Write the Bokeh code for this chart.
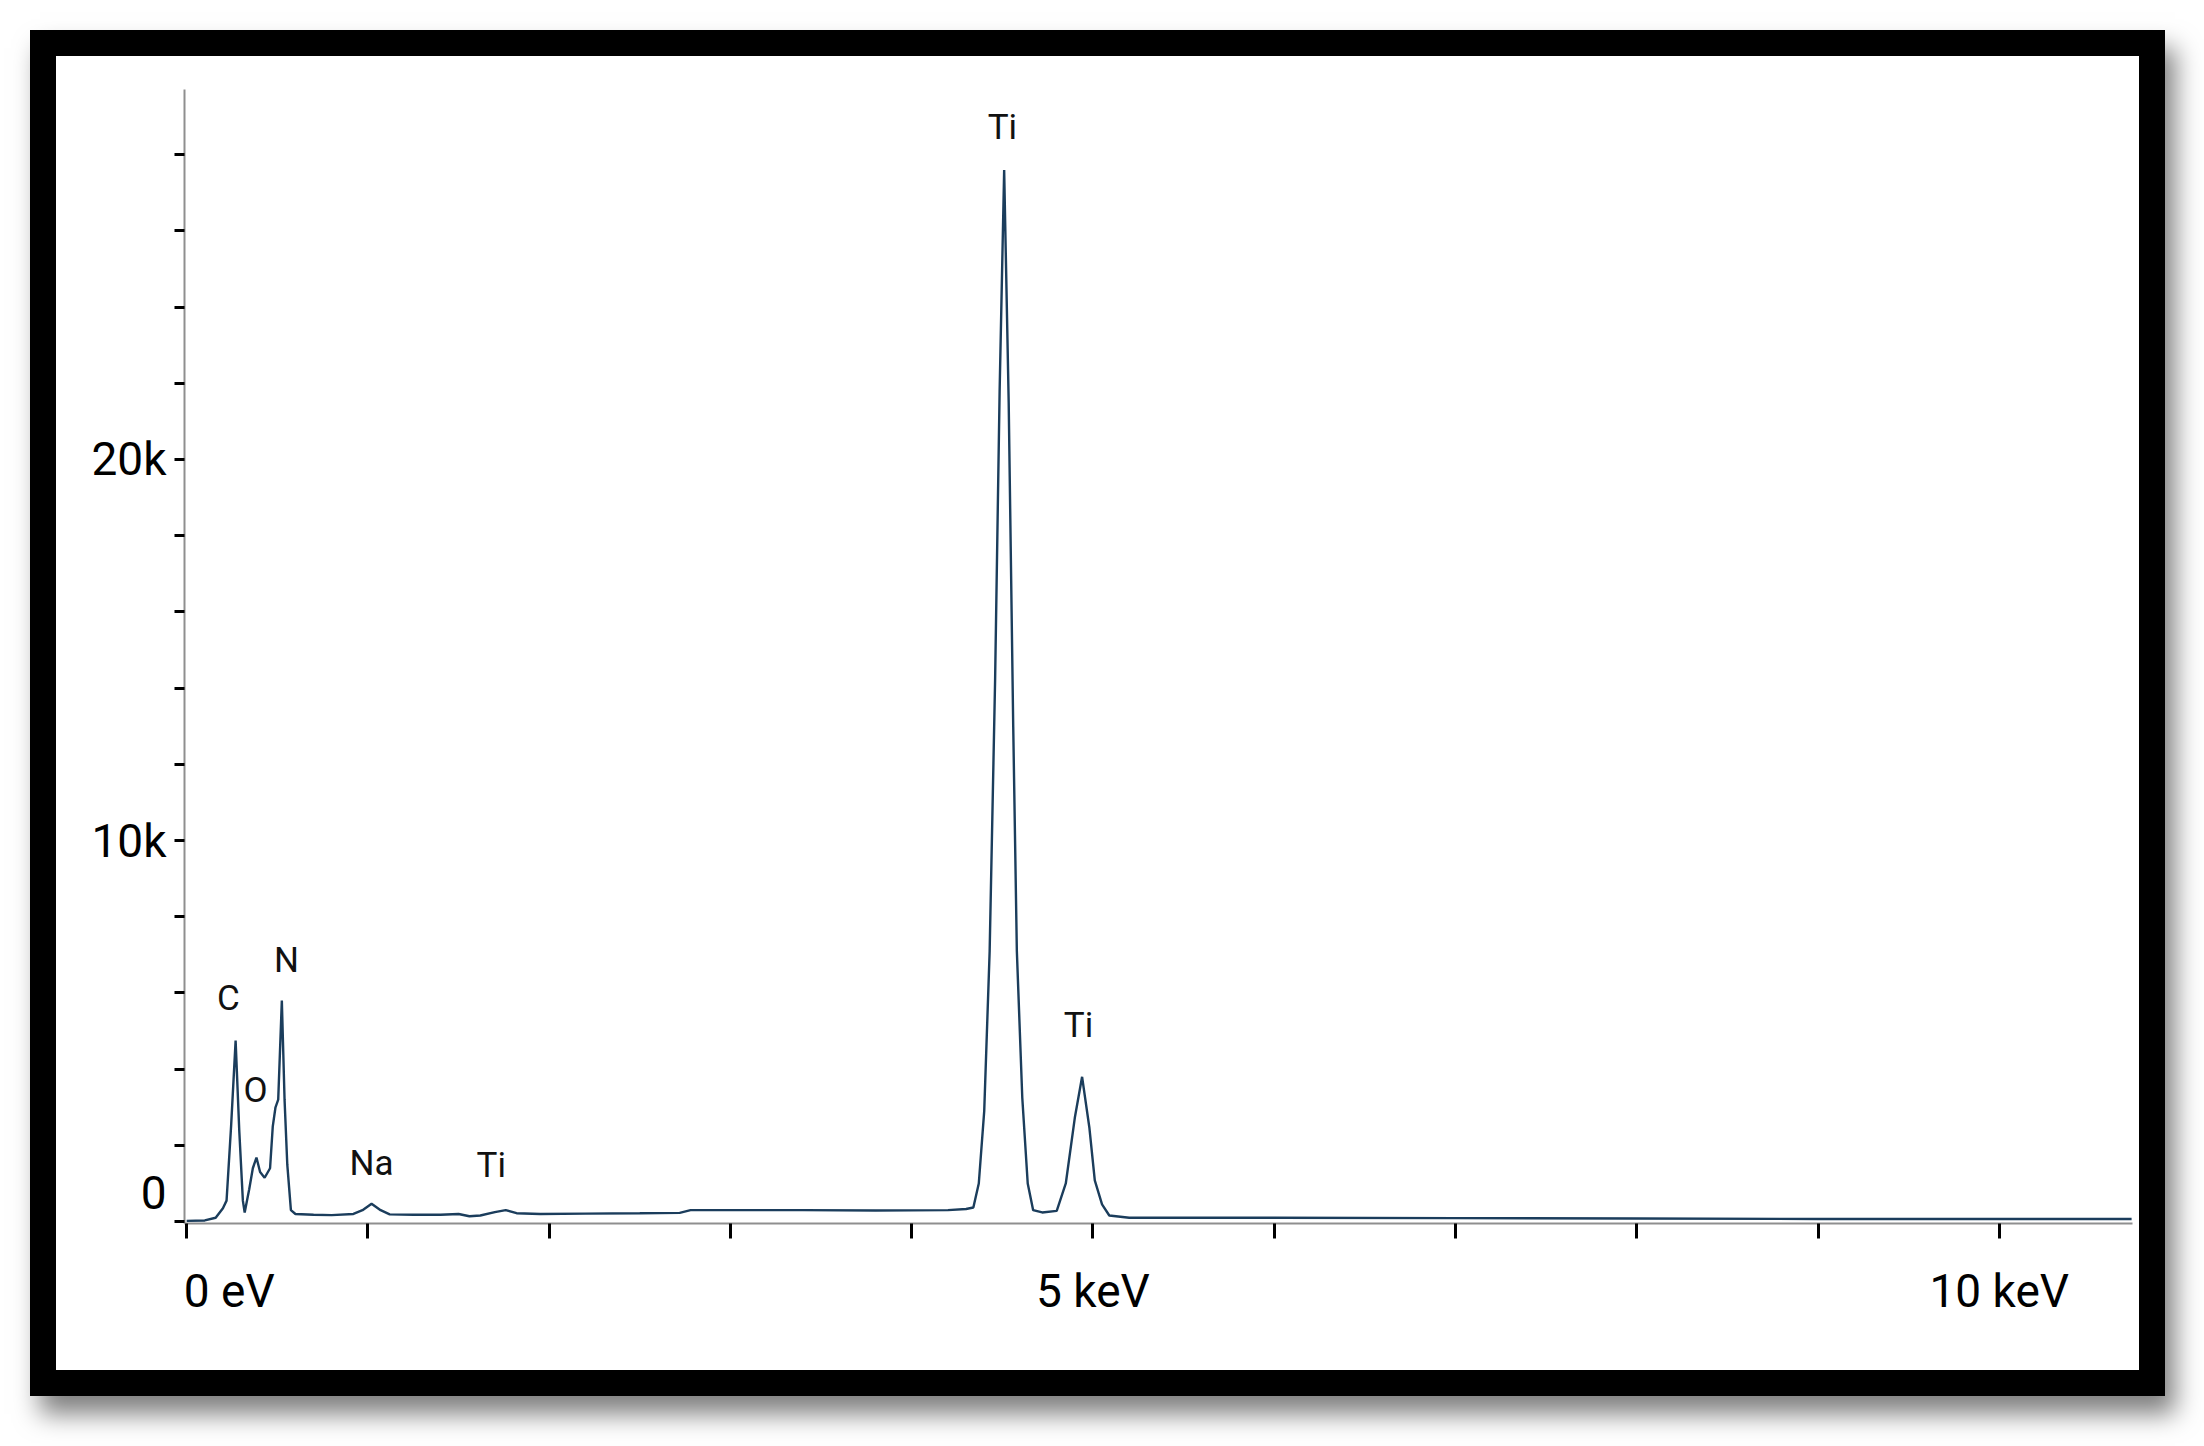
from bokeh.plotting import figure
from bokeh.models import Range1d, FixedTicker, ColumnDataSource
from bokeh.core.properties import value
from bokeh.embed import file_html
from bokeh.resources import INLINE

# ---- data (energy in keV, counts) ----
energy_kev = [0.00, 0.10, 0.16, 0.20, 0.22, 0.245, 0.27, 0.29, 0.31, 0.32, 0.345, 0.365,
              0.385, 0.405, 0.43, 0.46, 0.475, 0.49, 0.505, 0.525, 0.54, 0.555, 0.575, 0.60,
              0.70, 0.80, 0.92, 0.97, 1.02, 1.07, 1.12, 1.25, 1.40, 1.50, 1.56, 1.62, 1.70,
              1.76, 1.82, 1.95, 2.20, 2.50, 2.72, 2.78, 3.00, 3.40, 3.80, 4.20, 4.30, 4.34,
              4.37, 4.40, 4.43, 4.46, 4.485, 4.51, 4.535, 4.56, 4.58, 4.61, 4.64, 4.67, 4.72,
              4.80, 4.85, 4.90, 4.94, 4.98, 5.01, 5.05, 5.09, 5.20, 6.00, 7.00, 8.00, 9.00,
              10.00, 10.73]
counts = [20, 30, 100, 350, 550, 2500, 4750, 2400, 550, 240, 850, 1400,
          1680, 1300, 1150, 1400, 2500, 3000, 3200, 5800, 3200, 1500, 300, 200,
          180, 170, 200, 300, 470, 300, 190, 180, 180, 200, 140, 160, 250,
          300, 220, 200, 210, 220, 230, 300, 300, 300, 290, 300, 330, 370,
          1000, 2900, 7100, 14200, 21800, 27600, 21500, 13000, 7100, 3250, 1000, 300, 240,
          280, 1000, 2730, 3800, 2470, 1080, 450, 160, 100, 100, 90, 80, 70,
          70, 70]

peak_labels = ["C", "O", "N", "Na", "Ti", "Ti", "Ti"]
peak_label_energy = [0.23, 0.38, 0.55, 1.02, 1.68, 4.50, 4.92]
peak_label_counts = [5860, 3440, 6860, 1530, 1480, 28700, 5150]

# tick marks every 1 keV / 2k counts; labels sit where the original software drew them
x_tick_marks = [0, 1, 2, 3, 4, 5, 6, 7, 8, 9, 10]
x_label_pos = [0.235, 5, 10]
x_label_text = ["0 eV", "5 keV", "10 keV"]
y_tick_marks = [0, 2000, 4000, 6000, 8000, 10000, 12000, 14000, 16000, 18000,
                20000, 22000, 24000, 26000, 28000]
y_label_pos = [760, 10000, 20000]
y_label_text = ["0", "10k", "20k"]

FONT = "Roboto"
LINE_COLOR = "#1b3d5c"

p = figure(width=2083, height=1314,
           x_range=Range1d(-0.012, 10.735), y_range=Range1d(-50, 29710),
           output_backend="svg", toolbar_location=None,
           min_border_left=128, min_border_right=7, min_border_top=33, min_border_bottom=147)

p.background_fill_color = "white"
p.border_fill_color = "white"
p.outline_line_color = None
p.xgrid.visible = False
p.ygrid.visible = False

# black picture frame with drop shadow (drawn outside the canvas box)
p.styles = {"position": "relative", "left": "56px", "top": "56px",
            "outline": "26px solid #000",
            "box-shadow": "10px 18px 24px 26px rgba(0,0,0,0.5)"}

src = ColumnDataSource(dict(x=energy_kev, y=counts))
p.line("x", "y", source=src, line_color=LINE_COLOR, line_width=2.4)

lab = ColumnDataSource(dict(x=peak_label_energy, y=peak_label_counts, t=peak_labels))
p.text("x", "y", text="t", source=lab, text_font=value(FONT), text_font_size="35px",
       text_color="#111111", text_align="center", text_baseline="alphabetic")

# x axis
xa = p.xaxis[0]
xa.ticker = FixedTicker(ticks=x_label_pos, minor_ticks=x_tick_marks)
xa.major_label_overrides = dict(zip(x_label_pos, x_label_text))
xa.axis_line_color = "#8f8f8f"
xa.axis_line_width = 2
xa.major_tick_line_color = None
xa.major_tick_in = 0
xa.major_tick_out = 0
xa.minor_tick_line_color = "black"
xa.minor_tick_line_width = 3
xa.minor_tick_in = 0
xa.minor_tick_out = 15
xa.major_label_text_font = FONT
xa.major_label_text_font_size = "46px"
xa.major_label_text_color = "black"
xa.major_label_standoff = 25

# y axis
ya = p.yaxis[0]
ya.ticker = FixedTicker(ticks=y_label_pos, minor_ticks=y_tick_marks)
ya.major_label_overrides = dict(zip(y_label_pos, y_label_text))
ya.axis_line_color = "#8f8f8f"
ya.axis_line_width = 2
ya.major_tick_line_color = None
ya.major_tick_in = 0
ya.major_tick_out = 0
ya.minor_tick_line_color = "black"
ya.minor_tick_line_width = 3
ya.minor_tick_in = 0
ya.minor_tick_out = 10
ya.major_label_text_font = FONT
ya.major_label_text_font_size = "46px"
ya.major_label_text_color = "black"
ya.major_label_standoff = 8

open("out.html", "w").write(file_html(p, INLINE))
